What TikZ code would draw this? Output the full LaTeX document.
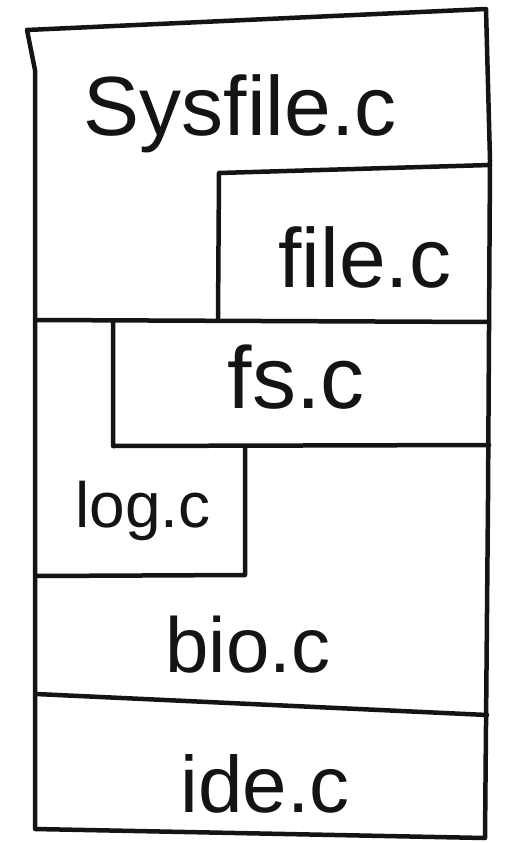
\documentclass[tikz,border=0pt]{standalone}
\usepackage{fontspec}
\setmainfont{Liberation Sans}
\begin{document}
\begin{tikzpicture}[x=1pt,y=-1pt,
  ink/.style={line width=4.5pt,line join=round,line cap=round,draw=black!92},
  lbl/.style={anchor=base,inner sep=0pt,text=black!92}]
\useasboundingbox[fill=white] (0,0) rectangle (508,843);
% outer frame
\draw[ink] (27,30) -- (486,9) -- (490,160) -- (488,500) -- (485,838) -- (35,829) -- (35,70) -- cycle;
% file.c box
\draw[ink] (218,318) -- (219,173) -- (490,165);
% line under file.c
\draw[ink] (36,320) -- (489,322);
% fs.c box
\draw[ink] (113,322) -- (113,446) -- (489,445);
% log.c box
\draw[ink] (36,576) -- (245,575) -- (245,448);
% line under bio.c
\draw[ink] (36,694) -- (487,715);
% labels
\node[lbl] (sysfile) at (240,135) {\fontsize{84}{90}\selectfont Sysfile.c};
\node[lbl] (file) at (365,287) {\fontsize{84}{90}\selectfont file.c};
\node[lbl] (fs) at (296,408) {\fontsize{88}{90}\selectfont fs.c};
\node[lbl] (log) at (143,527) {\fontsize{64}{70}\selectfont log.c};
\node[lbl] (bio) at (248,672) {\fontsize{78}{80}\selectfont bio.c};
\node[lbl] (ide) at (265,812) {\fontsize{80}{80}\selectfont ide.c};
\end{tikzpicture}
\end{document}
